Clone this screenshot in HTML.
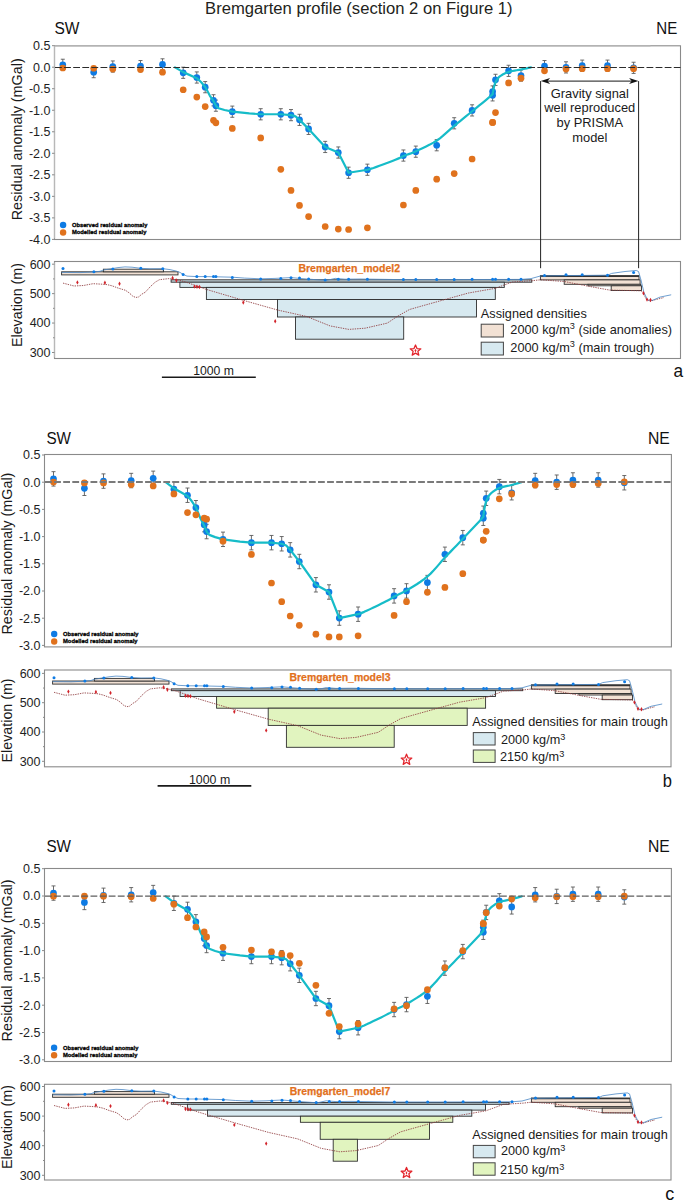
<!DOCTYPE html>
<html><head><meta charset="utf-8"><title>Bremgarten profile</title>
<style>html,body{margin:0;padding:0;background:#fff;}svg{display:block;}</style>
</head><body>
<svg width="685" height="1201" viewBox="0 0 685 1201" font-family='"Liberation Sans", sans-serif'>
<rect width="685" height="1201" fill="#fff"/>
<text x="358.8" y="14.4" font-size="15.6" text-anchor="middle" font-weight="normal" fill="#231f20" textLength="307.5" lengthAdjust="spacingAndGlyphs">Bremgarten profile (section 2 on Figure 1)</text>
<text x="54.5" y="34.3" font-size="17.2" text-anchor="start" font-weight="normal" fill="#111" textLength="25" lengthAdjust="spacingAndGlyphs">SW</text>
<text x="656.3" y="34.2" font-size="17.2" text-anchor="start" font-weight="normal" fill="#111" textLength="21" lengthAdjust="spacingAndGlyphs">NE</text>
<text x="46.4" y="444.2" font-size="16.8" text-anchor="start" font-weight="normal" fill="#111" textLength="24.6" lengthAdjust="spacingAndGlyphs">SW</text>
<text x="648" y="444.2" font-size="16.8" text-anchor="start" font-weight="normal" fill="#111" textLength="21.8" lengthAdjust="spacingAndGlyphs">NE</text>
<text x="46.4" y="851.9" font-size="16.8" text-anchor="start" font-weight="normal" fill="#111" textLength="24.6" lengthAdjust="spacingAndGlyphs">SW</text>
<text x="648" y="851.9" font-size="16.8" text-anchor="start" font-weight="normal" fill="#111" textLength="21.8" lengthAdjust="spacingAndGlyphs">NE</text>
<rect x="54.5" y="45.8" width="626" height="193.7" fill="none" stroke="#8a8a8a" stroke-width="1.1"/>
<path d="M54.5 45.8H650.5M54.5 45.8V238.5" stroke="#b8b8b8" stroke-width="1.3" fill="none"/>
<line x1="52" y1="45.68" x2="54.5" y2="45.68" stroke="#8a8a8a" stroke-width="1"/>
<text x="50.5" y="50.08" font-size="12.5" text-anchor="end" font-weight="normal" fill="#1e1e1e">0.5</text>
<line x1="52" y1="67.2" x2="54.5" y2="67.2" stroke="#8a8a8a" stroke-width="1"/>
<text x="50.5" y="71.6" font-size="12.5" text-anchor="end" font-weight="normal" fill="#1e1e1e">0.0</text>
<line x1="52" y1="88.72" x2="54.5" y2="88.72" stroke="#8a8a8a" stroke-width="1"/>
<text x="50.5" y="93.12" font-size="12.5" text-anchor="end" font-weight="normal" fill="#1e1e1e">-0.5</text>
<line x1="52" y1="110.25" x2="54.5" y2="110.25" stroke="#8a8a8a" stroke-width="1"/>
<text x="50.5" y="114.65" font-size="12.5" text-anchor="end" font-weight="normal" fill="#1e1e1e">-1.0</text>
<line x1="52" y1="131.77" x2="54.5" y2="131.77" stroke="#8a8a8a" stroke-width="1"/>
<text x="50.5" y="136.17" font-size="12.5" text-anchor="end" font-weight="normal" fill="#1e1e1e">-1.5</text>
<line x1="52" y1="153.3" x2="54.5" y2="153.3" stroke="#8a8a8a" stroke-width="1"/>
<text x="50.5" y="157.7" font-size="12.5" text-anchor="end" font-weight="normal" fill="#1e1e1e">-2.0</text>
<line x1="52" y1="174.82" x2="54.5" y2="174.82" stroke="#8a8a8a" stroke-width="1"/>
<text x="50.5" y="179.22" font-size="12.5" text-anchor="end" font-weight="normal" fill="#1e1e1e">-2.5</text>
<line x1="52" y1="196.35" x2="54.5" y2="196.35" stroke="#8a8a8a" stroke-width="1"/>
<text x="50.5" y="200.75" font-size="12.5" text-anchor="end" font-weight="normal" fill="#1e1e1e">-3.0</text>
<line x1="52" y1="217.88" x2="54.5" y2="217.88" stroke="#8a8a8a" stroke-width="1"/>
<text x="50.5" y="222.28" font-size="12.5" text-anchor="end" font-weight="normal" fill="#1e1e1e">-3.5</text>
<line x1="52" y1="239.4" x2="54.5" y2="239.4" stroke="#8a8a8a" stroke-width="1"/>
<text x="50.5" y="243.8" font-size="12.5" text-anchor="end" font-weight="normal" fill="#1e1e1e">-4.0</text>
<text transform="translate(22.2,139.3) rotate(-90)" x="0" y="0" font-size="14.3" text-anchor="middle" fill="#1a1a1a" textLength="162" lengthAdjust="spacingAndGlyphs">Residual anomaly (mGal)</text>
<path d="M62.8 59.23V70.41M60.8 59.23h4M60.8 70.41h4" stroke="#5a5a5a" stroke-width="0.9" fill="none"/><path d="M93.7 66.54V77.72M91.7 66.54h4M91.7 77.72h4" stroke="#5a5a5a" stroke-width="0.9" fill="none"/><path d="M112.8 60.95V72.13M110.8 60.95h4M110.8 72.13h4" stroke="#5a5a5a" stroke-width="0.9" fill="none"/><path d="M140.5 60.52V71.7M138.5 60.52h4M138.5 71.7h4" stroke="#5a5a5a" stroke-width="0.9" fill="none"/><path d="M162.5 58.8V69.98M160.5 58.8h4M160.5 69.98h4" stroke="#5a5a5a" stroke-width="0.9" fill="none"/><path d="M183.2 67.19V78.37M181.2 67.19h4M181.2 78.37h4" stroke="#5a5a5a" stroke-width="0.9" fill="none"/><path d="M196.8 71.92V83.1M194.8 71.92h4M194.8 83.1h4" stroke="#5a5a5a" stroke-width="0.9" fill="none"/><path d="M205.2 81.59V92.77M203.2 81.59h4M203.2 92.77h4" stroke="#5a5a5a" stroke-width="0.9" fill="none"/><path d="M213.5 94.71V105.89M211.5 94.71h4M211.5 105.89h4" stroke="#5a5a5a" stroke-width="0.9" fill="none"/><path d="M215.9 100.08V111.26M213.9 100.08h4M213.9 111.26h4" stroke="#5a5a5a" stroke-width="0.9" fill="none"/><path d="M232.3 106.1V117.28M230.3 106.1h4M230.3 117.28h4" stroke="#5a5a5a" stroke-width="0.9" fill="none"/><path d="M260.7 108.68V119.86M258.7 108.68h4M258.7 119.86h4" stroke="#5a5a5a" stroke-width="0.9" fill="none"/><path d="M280.8 108.68V119.86M278.8 108.68h4M278.8 119.86h4" stroke="#5a5a5a" stroke-width="0.9" fill="none"/><path d="M291 109.54V120.72M289 109.54h4M289 120.72h4" stroke="#5a5a5a" stroke-width="0.9" fill="none"/><path d="M299.5 114.27V125.45M297.5 114.27h4M297.5 125.45h4" stroke="#5a5a5a" stroke-width="0.9" fill="none"/><path d="M308.6 123.3V134.48M306.6 123.3h4M306.6 134.48h4" stroke="#5a5a5a" stroke-width="0.9" fill="none"/><path d="M325.2 141.36V152.54M323.2 141.36h4M323.2 152.54h4" stroke="#5a5a5a" stroke-width="0.9" fill="none"/><path d="M338.3 146.95V158.13M336.3 146.95h4M336.3 158.13h4" stroke="#5a5a5a" stroke-width="0.9" fill="none"/><path d="M348.6 167.16V178.34M346.6 167.16h4M346.6 178.34h4" stroke="#5a5a5a" stroke-width="0.9" fill="none"/><path d="M367.4 164.15V175.33M365.4 164.15h4M365.4 175.33h4" stroke="#5a5a5a" stroke-width="0.9" fill="none"/><path d="M403.4 149.96V161.14M401.4 149.96h4M401.4 161.14h4" stroke="#5a5a5a" stroke-width="0.9" fill="none"/><path d="M415.8 146.09V157.27M413.8 146.09h4M413.8 157.27h4" stroke="#5a5a5a" stroke-width="0.9" fill="none"/><path d="M436.7 139.64V150.82M434.7 139.64h4M434.7 150.82h4" stroke="#5a5a5a" stroke-width="0.9" fill="none"/><path d="M454.2 117.71V128.89M452.2 117.71h4M452.2 128.89h4" stroke="#5a5a5a" stroke-width="0.9" fill="none"/><path d="M472.1 104.81V115.99M470.1 104.81h4M470.1 115.99h4" stroke="#5a5a5a" stroke-width="0.9" fill="none"/><path d="M492.6 85.89V97.07M490.6 85.89h4M490.6 97.07h4" stroke="#5a5a5a" stroke-width="0.9" fill="none"/><path d="M492.6 89.76V100.94M490.6 89.76h4M490.6 100.94h4" stroke="#5a5a5a" stroke-width="0.9" fill="none"/><path d="M495.5 74.28V85.46M493.5 74.28h4M493.5 85.46h4" stroke="#5a5a5a" stroke-width="0.9" fill="none"/><path d="M508.6 65.25V76.43M506.6 65.25h4M506.6 76.43h4" stroke="#5a5a5a" stroke-width="0.9" fill="none"/><path d="M521 69.98V81.16M519 69.98h4M519 81.16h4" stroke="#5a5a5a" stroke-width="0.9" fill="none"/><path d="M544.5 60.52V71.7M542.5 60.52h4M542.5 71.7h4" stroke="#5a5a5a" stroke-width="0.9" fill="none"/><path d="M566 61.81V72.99M564 61.81h4M564 72.99h4" stroke="#5a5a5a" stroke-width="0.9" fill="none"/><path d="M582.2 60.09V71.27M580.2 60.09h4M580.2 71.27h4" stroke="#5a5a5a" stroke-width="0.9" fill="none"/><path d="M607.5 60.09V71.27M605.5 60.09h4M605.5 71.27h4" stroke="#5a5a5a" stroke-width="0.9" fill="none"/><path d="M633.6 62.24V73.42M631.6 62.24h4M631.6 73.42h4" stroke="#5a5a5a" stroke-width="0.9" fill="none"/>
<circle cx="62.8" cy="64.82" r="3.35" fill="#0e7be4"/><circle cx="93.7" cy="72.13" r="3.35" fill="#0e7be4"/><circle cx="112.8" cy="66.54" r="3.35" fill="#0e7be4"/><circle cx="140.5" cy="66.11" r="3.35" fill="#0e7be4"/><circle cx="162.5" cy="64.39" r="3.35" fill="#0e7be4"/><circle cx="183.2" cy="72.78" r="3.35" fill="#0e7be4"/><circle cx="196.8" cy="77.51" r="3.35" fill="#0e7be4"/><circle cx="205.2" cy="87.18" r="3.35" fill="#0e7be4"/><circle cx="213.5" cy="100.3" r="3.35" fill="#0e7be4"/><circle cx="215.9" cy="105.67" r="3.35" fill="#0e7be4"/><circle cx="232.3" cy="111.69" r="3.35" fill="#0e7be4"/><circle cx="260.7" cy="114.27" r="3.35" fill="#0e7be4"/><circle cx="280.8" cy="114.27" r="3.35" fill="#0e7be4"/><circle cx="291" cy="115.13" r="3.35" fill="#0e7be4"/><circle cx="299.5" cy="119.86" r="3.35" fill="#0e7be4"/><circle cx="308.6" cy="128.89" r="3.35" fill="#0e7be4"/><circle cx="325.2" cy="146.95" r="3.35" fill="#0e7be4"/><circle cx="338.3" cy="152.54" r="3.35" fill="#0e7be4"/><circle cx="348.6" cy="172.75" r="3.35" fill="#0e7be4"/><circle cx="367.4" cy="169.74" r="3.35" fill="#0e7be4"/><circle cx="403.4" cy="155.55" r="3.35" fill="#0e7be4"/><circle cx="415.8" cy="151.68" r="3.35" fill="#0e7be4"/><circle cx="436.7" cy="145.23" r="3.35" fill="#0e7be4"/><circle cx="454.2" cy="123.3" r="3.35" fill="#0e7be4"/><circle cx="472.1" cy="110.4" r="3.35" fill="#0e7be4"/><circle cx="492.6" cy="91.48" r="3.35" fill="#0e7be4"/><circle cx="492.6" cy="95.35" r="3.35" fill="#0e7be4"/><circle cx="495.5" cy="79.87" r="3.35" fill="#0e7be4"/><circle cx="508.6" cy="70.84" r="3.35" fill="#0e7be4"/><circle cx="521" cy="75.57" r="3.35" fill="#0e7be4"/><circle cx="544.5" cy="66.11" r="3.35" fill="#0e7be4"/><circle cx="566" cy="67.4" r="3.35" fill="#0e7be4"/><circle cx="582.2" cy="65.68" r="3.35" fill="#0e7be4"/><circle cx="607.5" cy="65.68" r="3.35" fill="#0e7be4"/><circle cx="633.6" cy="67.83" r="3.35" fill="#0e7be4"/>
<polyline points="175,67.4 183.2,72.13 196.8,78.15 201,82.02 205.4,87.18 209.9,95.78 213.4,100.94 216.2,106.1 218.6,108.25 224.5,109.97 232.5,111.69 249.3,113.41 260.7,114.27 280.8,114.27 291,115.13 295.5,116.42 299.5,119.86 308.6,128.89 325.2,146.95 338.3,152.54 348.6,172.75 367.4,169.74 370.44,168.91 373.48,167.94 376.48,166.89 379.42,165.81 382.27,164.73 385,163.72 387.69,162.72 390.39,161.7 392.99,160.68 395.4,159.72 397.54,158.86 399.3,158.13 400.49,157.6 401.14,157.25 401.51,157 401.86,156.76 402.44,156.45 403.5,155.98 405.01,155.41 406.74,154.82 408.71,154.15 410.91,153.37 413.34,152.42 416,151.25 419.03,149.85 422.44,148.26 426.09,146.49 429.81,144.59 433.43,142.59 436.8,140.5 439.89,138.29 442.83,135.91 445.68,133.43 448.48,130.9 451.3,128.36 454.2,125.88 457.16,123.45 460.13,121.04 463.12,118.62 466.13,116.2 469.15,113.75 472.2,111.26 475.47,108.59 479.01,105.7 482.56,102.79 485.89,100.05 488.75,97.65 490.9,95.78 492.18,94.62 492.75,94.04 492.85,93.82 492.72,93.69 492.59,93.43 492.7,92.77 493,91.68 493.29,90.33 493.59,88.85 493.9,87.32 494.23,85.87 494.6,84.6 495.01,83.49 495.44,82.47 495.89,81.51 496.37,80.62 496.88,79.79 497.4,79.01 497.91,78.31 498.39,77.71 498.9,77.17 499.47,76.65 500.16,76.13 501,75.57 501.98,74.96 503.07,74.32 504.26,73.68 505.58,73.05 507.02,72.45 508.6,71.92 510.39,71.44 512.4,71.02 514.54,70.64 516.71,70.27 518.83,69.92 520.8,69.55 522.73,69.15 524.73,68.74 526.66,68.33 528.43,67.95 529.91,67.63 531,67.4" fill="none" stroke="#16bcc8" stroke-width="2.2" stroke-linejoin="round" stroke-linecap="round"/>
<circle cx="62.8" cy="68" r="3.35" fill="#e0721d"/><circle cx="93.7" cy="68.26" r="3.35" fill="#e0721d"/><circle cx="112.8" cy="69.12" r="3.35" fill="#e0721d"/><circle cx="140.5" cy="69.55" r="3.35" fill="#e0721d"/><circle cx="162.5" cy="72.13" r="3.35" fill="#e0721d"/><circle cx="183.2" cy="89.76" r="3.35" fill="#e0721d"/><circle cx="196.8" cy="97.07" r="3.35" fill="#e0721d"/><circle cx="205.2" cy="106.53" r="3.35" fill="#e0721d"/><circle cx="213.5" cy="120.29" r="3.35" fill="#e0721d"/><circle cx="215.9" cy="122.87" r="3.35" fill="#e0721d"/><circle cx="232.3" cy="128.46" r="3.35" fill="#e0721d"/><circle cx="260.7" cy="137.92" r="3.35" fill="#e0721d"/><circle cx="280.8" cy="169.31" r="3.35" fill="#e0721d"/><circle cx="291" cy="190.38" r="3.35" fill="#e0721d"/><circle cx="299.5" cy="205.43" r="3.35" fill="#e0721d"/><circle cx="308.6" cy="216.61" r="3.35" fill="#e0721d"/><circle cx="325.2" cy="226.5" r="3.35" fill="#e0721d"/><circle cx="338.3" cy="229.08" r="3.35" fill="#e0721d"/><circle cx="348.6" cy="229.51" r="3.35" fill="#e0721d"/><circle cx="367.4" cy="227.79" r="3.35" fill="#e0721d"/><circle cx="403.4" cy="205" r="3.35" fill="#e0721d"/><circle cx="415.8" cy="190.38" r="3.35" fill="#e0721d"/><circle cx="436.7" cy="179.2" r="3.35" fill="#e0721d"/><circle cx="454.2" cy="173.61" r="3.35" fill="#e0721d"/><circle cx="472.1" cy="158.99" r="3.35" fill="#e0721d"/><circle cx="492.6" cy="122.44" r="3.35" fill="#e0721d"/><circle cx="492.6" cy="122.44" r="3.35" fill="#e0721d"/><circle cx="495.5" cy="112.55" r="3.35" fill="#e0721d"/><circle cx="508.6" cy="82.88" r="3.35" fill="#e0721d"/><circle cx="521" cy="78.15" r="3.35" fill="#e0721d"/><circle cx="544.5" cy="70.84" r="3.35" fill="#e0721d"/><circle cx="566" cy="69.12" r="3.35" fill="#e0721d"/><circle cx="582.2" cy="68.69" r="3.35" fill="#e0721d"/><circle cx="607.5" cy="68.69" r="3.35" fill="#e0721d"/><circle cx="633.6" cy="68.69" r="3.35" fill="#e0721d"/>
<line x1="55" y1="67.5" x2="680.5" y2="67.5" stroke="#2b2b2b" stroke-width="1.2" stroke-dasharray="6.8 2.3"/>
<circle cx="63.1" cy="225" r="3.2" fill="#0e7be4"/>
<circle cx="63.1" cy="232.5" r="3.2" fill="#e0721d"/>
<text x="71.9" y="227" font-size="6.2" text-anchor="start" font-weight="bold" fill="#000" textLength="75.5" lengthAdjust="spacingAndGlyphs" stroke="#000" stroke-width="0.3">Observed residual anomaly</text>
<text x="71.9" y="234.2" font-size="6.2" text-anchor="start" font-weight="bold" fill="#000" textLength="74.5" lengthAdjust="spacingAndGlyphs" stroke="#000" stroke-width="0.3">Modelled residual anomaly</text>
<rect x="171.1" y="279.8" width="360.7" height="2.4" fill="#c3d5dc" stroke="#2e2e2e" stroke-width="0.9"/>
<rect x="179.9" y="282.2" width="324.4" height="5.2" fill="#d7e9f0" stroke="#2e2e2e" stroke-width="0.9"/>
<rect x="206.4" y="287.4" width="288.9" height="12.1" fill="#d7e9f0" stroke="#2e2e2e" stroke-width="0.9"/>
<rect x="277.5" y="299.5" width="199" height="17.5" fill="#d7e9f0" stroke="#2e2e2e" stroke-width="0.9"/>
<rect x="295.5" y="317" width="108.2" height="22.2" fill="#d7e9f0" stroke="#2e2e2e" stroke-width="0.9"/>
<rect x="61.6" y="271.8" width="116.4" height="3.1" fill="#f2e1d4" stroke="#2e2e2e" stroke-width="0.9"/>
<rect x="103.4" y="269.2" width="60.1" height="2.6" fill="#f2e1d4" stroke="#2e2e2e" stroke-width="0.9"/>
<rect x="540.4" y="275.6" width="98.6" height="4.3" fill="#f2e1d4" stroke="#2e2e2e" stroke-width="0.9"/>
<rect x="564.2" y="279.9" width="75.9" height="4.4" fill="#f2e1d4" stroke="#2e2e2e" stroke-width="0.9"/>
<rect x="587.9" y="284.3" width="52.9" height="1.5" fill="#f2e1d4" stroke="#2e2e2e" stroke-width="0.9"/>
<rect x="611.2" y="285.8" width="30.3" height="4.7" fill="#f2e1d4" stroke="#2e2e2e" stroke-width="0.9"/>
<line x1="540.4" y1="276.3" x2="639" y2="276.3" stroke="#333" stroke-width="1.3"/>
<polyline points="63,283.1 74,286 83.5,285.5 93,283.7 102.4,284.2 107,284.6 112,285.8 118.2,288.1 125.5,290.3 129.2,292.9 132.8,296.2 135.8,297.5 138.7,296.9 141.6,294.3 145.3,292.2 150,287 155,282.3 159.4,279.7 168.9,278.6 176.4,279.5 185,281.8 206.7,289.5 243.2,300.3 277.5,310 306.7,316.5 330,325.9 348.8,329.4 365.1,328.2 387.3,323.1 397.8,316.1 409.5,309.5 420,306.5 442.2,300.3 468.5,293 495,288.4 512.6,281.9 531.5,280.8 540.4,279.8 564.2,281.5 588.8,286.3 609.7,290.1 641,290.8 643.5,293 646,299 650,301.3 656,299.5 664,297.5" fill="none" stroke="#8f3b3d" stroke-width="0.85" stroke-dasharray="1.4 1.0"/>
<polyline points="61.6,272.4 80,272.6 93.9,272 100,271.3 103.4,270 110,269 118,267.6 125,266.9 132,267.2 140.8,268.3 150,268.8 162.8,268.7 170,269.6 176,271 180,272.4 183.1,274.4 187,276.1 196.8,276.6 205.2,276.6 215.9,276.8 232.3,277.2 244.7,278.1 260.7,278.8 275,278.4 291,277.6 308,279.1 326.4,280.4 335.2,278.4 345,279.2 360,279 400,279.6 450,279.6 521,279.4 531,278.6 540.4,276 566,275.6 607.8,275.2 611.6,273.4 625,271.5 636.3,270.5 638.5,271.5 641,280 643.9,292.4 647.6,300 652,300.5 660,297.1 671.2,294.8" fill="none" stroke="#4a87c4" stroke-width="0.8"/>
<circle cx="63" cy="268.5" r="1.5" fill="#0e7be4"/><circle cx="93.9" cy="271.8" r="1.5" fill="#0e7be4"/><circle cx="112.9" cy="268.9" r="1.5" fill="#0e7be4"/><circle cx="140.8" cy="268.3" r="1.5" fill="#0e7be4"/><circle cx="162.8" cy="268.7" r="1.5" fill="#0e7be4"/><circle cx="183.1" cy="274.6" r="1.5" fill="#0e7be4"/><circle cx="196.8" cy="276.6" r="1.5" fill="#0e7be4"/><circle cx="205.2" cy="276.6" r="1.5" fill="#0e7be4"/><circle cx="213.5" cy="276.6" r="1.5" fill="#0e7be4"/><circle cx="215.9" cy="276.6" r="1.5" fill="#0e7be4"/><circle cx="232.3" cy="277.4" r="1.5" fill="#0e7be4"/><circle cx="260.7" cy="278.9" r="1.5" fill="#0e7be4"/><circle cx="280.8" cy="278.6" r="1.5" fill="#0e7be4"/><circle cx="291" cy="277.8" r="1.5" fill="#0e7be4"/><circle cx="299.5" cy="278.1" r="1.5" fill="#0e7be4"/><circle cx="308.6" cy="279.1" r="1.5" fill="#0e7be4"/><circle cx="325.2" cy="280.1" r="1.5" fill="#0e7be4"/><circle cx="338.3" cy="279.2" r="1.5" fill="#0e7be4"/><circle cx="348.6" cy="279.2" r="1.5" fill="#0e7be4"/><circle cx="367.4" cy="279.2" r="1.5" fill="#0e7be4"/><circle cx="403.4" cy="279.6" r="1.5" fill="#0e7be4"/><circle cx="415.8" cy="279.6" r="1.5" fill="#0e7be4"/><circle cx="436.7" cy="279.6" r="1.5" fill="#0e7be4"/><circle cx="454.2" cy="279.6" r="1.5" fill="#0e7be4"/><circle cx="472.1" cy="279.3" r="1.5" fill="#0e7be4"/><circle cx="492.6" cy="279.3" r="1.5" fill="#0e7be4"/><circle cx="495.5" cy="279.3" r="1.5" fill="#0e7be4"/><circle cx="508.6" cy="279.3" r="1.5" fill="#0e7be4"/><circle cx="521" cy="279.3" r="1.5" fill="#0e7be4"/><circle cx="544.5" cy="275.5" r="1.5" fill="#0e7be4"/><circle cx="566" cy="274.8" r="1.5" fill="#0e7be4"/><circle cx="582.2" cy="274.8" r="1.5" fill="#0e7be4"/><circle cx="607.5" cy="275.2" r="1.5" fill="#0e7be4"/><circle cx="633.6" cy="272.5" r="1.5" fill="#0e7be4"/>
<path d="M77.4 280.2l1.2 2.2l-1.2 2.2l-1.2 -2.2z" fill="#d2232a"/><path d="M104.9 280.6l1.2 2.2l-1.2 2.2l-1.2 -2.2z" fill="#d2232a"/><path d="M119.5 281.5l1.2 2.2l-1.2 2.2l-1.2 -2.2z" fill="#d2232a"/><path d="M172.6 275.8l1.2 2.2l-1.2 2.2l-1.2 -2.2z" fill="#d2232a"/><path d="M176.4 278.3l1.2 2.2l-1.2 2.2l-1.2 -2.2z" fill="#d2232a"/><path d="M194.5 284.4l1.2 2.2l-1.2 2.2l-1.2 -2.2z" fill="#d2232a"/><path d="M197 284.6l1.2 2.2l-1.2 2.2l-1.2 -2.2z" fill="#d2232a"/><path d="M199.5 284.8l1.2 2.2l-1.2 2.2l-1.2 -2.2z" fill="#d2232a"/><path d="M243.3 300.3l1.2 2.2l-1.2 2.2l-1.2 -2.2z" fill="#d2232a"/><path d="M275.2 319l1.2 2.2l-1.2 2.2l-1.2 -2.2z" fill="#d2232a"/><path d="M643.5 291l1.2 2.2l-1.2 2.2l-1.2 -2.2z" fill="#d2232a"/><path d="M647 297.4l1.2 2.2l-1.2 2.2l-1.2 -2.2z" fill="#d2232a"/><path d="M650.5 297.8l1.2 2.2l-1.2 2.2l-1.2 -2.2z" fill="#d2232a"/>
<path d="M415.5,345 L416.97,348.58 L420.83,348.87 L417.88,351.37 L418.79,355.13 L415.5,353.1 L412.21,355.13 L413.12,351.37 L410.17,348.87 L414.03,348.58 Z" fill="none" stroke="#e3242b" stroke-width="1.3" stroke-linejoin="round"/>
<path d="M415.5 348.8l0.9 1.8l-0.9 1.8l-0.9 -1.8z" fill="#e3242b"/>
<rect x="54.5" y="261.5" width="626" height="97" fill="none" stroke="#8a8a8a" stroke-width="1.1"/>
<path d="M54.5 262.5V357.5" stroke="#b8b8b8" stroke-width="1.3" fill="none"/>
<line x1="52" y1="264.2" x2="54.5" y2="264.2" stroke="#8a8a8a" stroke-width="1"/>
<text x="50.5" y="268.6" font-size="12.5" text-anchor="end" font-weight="normal" fill="#1e1e1e">600</text>
<line x1="53" y1="278.91" x2="54.5" y2="278.91" stroke="#8a8a8a" stroke-width="1"/>
<line x1="52" y1="293.63" x2="54.5" y2="293.63" stroke="#8a8a8a" stroke-width="1"/>
<text x="50.5" y="298.03" font-size="12.5" text-anchor="end" font-weight="normal" fill="#1e1e1e">500</text>
<line x1="53" y1="308.34" x2="54.5" y2="308.34" stroke="#8a8a8a" stroke-width="1"/>
<line x1="52" y1="323.06" x2="54.5" y2="323.06" stroke="#8a8a8a" stroke-width="1"/>
<text x="50.5" y="327.46" font-size="12.5" text-anchor="end" font-weight="normal" fill="#1e1e1e">400</text>
<line x1="53" y1="337.77" x2="54.5" y2="337.77" stroke="#8a8a8a" stroke-width="1"/>
<line x1="52" y1="352.49" x2="54.5" y2="352.49" stroke="#8a8a8a" stroke-width="1"/>
<text x="50.5" y="356.89" font-size="12.5" text-anchor="end" font-weight="normal" fill="#1e1e1e">300</text>
<text transform="translate(22,305) rotate(-90)" x="0" y="0" font-size="14.3" text-anchor="middle" fill="#1a1a1a" textLength="84" lengthAdjust="spacingAndGlyphs">Elevation (m)</text>
<rect x="44.5" y="454.5" width="626.9" height="192.4" fill="none" stroke="#8a8a8a" stroke-width="1.1"/>
<line x1="42" y1="455" x2="44.5" y2="455" stroke="#8a8a8a" stroke-width="1"/>
<text x="40.5" y="459.4" font-size="12.5" text-anchor="end" font-weight="normal" fill="#1e1e1e">0.5</text>
<line x1="42" y1="482.2" x2="44.5" y2="482.2" stroke="#8a8a8a" stroke-width="1"/>
<text x="40.5" y="486.6" font-size="12.5" text-anchor="end" font-weight="normal" fill="#1e1e1e">0.0</text>
<line x1="42" y1="509.4" x2="44.5" y2="509.4" stroke="#8a8a8a" stroke-width="1"/>
<text x="40.5" y="513.8" font-size="12.5" text-anchor="end" font-weight="normal" fill="#1e1e1e">-0.5</text>
<line x1="42" y1="536.6" x2="44.5" y2="536.6" stroke="#8a8a8a" stroke-width="1"/>
<text x="40.5" y="541" font-size="12.5" text-anchor="end" font-weight="normal" fill="#1e1e1e">-1.0</text>
<line x1="42" y1="563.8" x2="44.5" y2="563.8" stroke="#8a8a8a" stroke-width="1"/>
<text x="40.5" y="568.2" font-size="12.5" text-anchor="end" font-weight="normal" fill="#1e1e1e">-1.5</text>
<line x1="42" y1="591" x2="44.5" y2="591" stroke="#8a8a8a" stroke-width="1"/>
<text x="40.5" y="595.4" font-size="12.5" text-anchor="end" font-weight="normal" fill="#1e1e1e">-2.0</text>
<line x1="42" y1="618.2" x2="44.5" y2="618.2" stroke="#8a8a8a" stroke-width="1"/>
<text x="40.5" y="622.6" font-size="12.5" text-anchor="end" font-weight="normal" fill="#1e1e1e">-2.5</text>
<line x1="42" y1="645.4" x2="44.5" y2="645.4" stroke="#8a8a8a" stroke-width="1"/>
<text x="40.5" y="649.8" font-size="12.5" text-anchor="end" font-weight="normal" fill="#1e1e1e">-3.0</text>
<text transform="translate(12.2,553.6) rotate(-90)" x="0" y="0" font-size="14.3" text-anchor="middle" fill="#1a1a1a" textLength="162" lengthAdjust="spacingAndGlyphs">Residual anomaly (mGal)</text>
<path d="M53.5 471.66V486.08M51.5 471.66h4M51.5 486.08h4" stroke="#5a5a5a" stroke-width="0.9" fill="none"/><path d="M84.4 481.09V495.51M82.4 481.09h4M82.4 495.51h4" stroke="#5a5a5a" stroke-width="0.9" fill="none"/><path d="M103.5 473.88V488.3M101.5 473.88h4M101.5 488.3h4" stroke="#5a5a5a" stroke-width="0.9" fill="none"/><path d="M131.2 473.33V487.75M129.2 473.33h4M129.2 487.75h4" stroke="#5a5a5a" stroke-width="0.9" fill="none"/><path d="M153.2 471.11V485.53M151.2 471.11h4M151.2 485.53h4" stroke="#5a5a5a" stroke-width="0.9" fill="none"/><path d="M173.9 481.92V496.34M171.9 481.92h4M171.9 496.34h4" stroke="#5a5a5a" stroke-width="0.9" fill="none"/><path d="M187.5 488.02V502.44M185.5 488.02h4M185.5 502.44h4" stroke="#5a5a5a" stroke-width="0.9" fill="none"/><path d="M195.9 500.5V514.92M193.9 500.5h4M193.9 514.92h4" stroke="#5a5a5a" stroke-width="0.9" fill="none"/><path d="M204.2 517.42V531.84M202.2 517.42h4M202.2 531.84h4" stroke="#5a5a5a" stroke-width="0.9" fill="none"/><path d="M206.6 524.35V538.77M204.6 524.35h4M204.6 538.77h4" stroke="#5a5a5a" stroke-width="0.9" fill="none"/><path d="M223 532.11V546.53M221 532.11h4M221 546.53h4" stroke="#5a5a5a" stroke-width="0.9" fill="none"/><path d="M251.4 535.44V549.86M249.4 535.44h4M249.4 549.86h4" stroke="#5a5a5a" stroke-width="0.9" fill="none"/><path d="M271.5 535.44V549.86M269.5 535.44h4M269.5 549.86h4" stroke="#5a5a5a" stroke-width="0.9" fill="none"/><path d="M281.7 536.55V550.97M279.7 536.55h4M279.7 550.97h4" stroke="#5a5a5a" stroke-width="0.9" fill="none"/><path d="M290.2 542.65V557.07M288.2 542.65h4M288.2 557.07h4" stroke="#5a5a5a" stroke-width="0.9" fill="none"/><path d="M299.3 554.3V568.72M297.3 554.3h4M297.3 568.72h4" stroke="#5a5a5a" stroke-width="0.9" fill="none"/><path d="M315.9 577.59V592.01M313.9 577.59h4M313.9 592.01h4" stroke="#5a5a5a" stroke-width="0.9" fill="none"/><path d="M329 584.8V599.22M327 584.8h4M327 599.22h4" stroke="#5a5a5a" stroke-width="0.9" fill="none"/><path d="M339.3 610.87V625.29M337.3 610.87h4M337.3 625.29h4" stroke="#5a5a5a" stroke-width="0.9" fill="none"/><path d="M358.1 606.99V621.4M356.1 606.99h4M356.1 621.4h4" stroke="#5a5a5a" stroke-width="0.9" fill="none"/><path d="M394.1 588.68V603.1M392.1 588.68h4M392.1 603.1h4" stroke="#5a5a5a" stroke-width="0.9" fill="none"/><path d="M406.5 583.69V598.11M404.5 583.69h4M404.5 598.11h4" stroke="#5a5a5a" stroke-width="0.9" fill="none"/><path d="M427.4 575.37V589.79M425.4 575.37h4M425.4 589.79h4" stroke="#5a5a5a" stroke-width="0.9" fill="none"/><path d="M444.9 547.09V561.51M442.9 547.09h4M442.9 561.51h4" stroke="#5a5a5a" stroke-width="0.9" fill="none"/><path d="M462.8 530.45V544.87M460.8 530.45h4M460.8 544.87h4" stroke="#5a5a5a" stroke-width="0.9" fill="none"/><path d="M483.3 506.05V520.47M481.3 506.05h4M481.3 520.47h4" stroke="#5a5a5a" stroke-width="0.9" fill="none"/><path d="M483.3 511.04V525.46M481.3 511.04h4M481.3 525.46h4" stroke="#5a5a5a" stroke-width="0.9" fill="none"/><path d="M486.2 491.07V505.49M484.2 491.07h4M484.2 505.49h4" stroke="#5a5a5a" stroke-width="0.9" fill="none"/><path d="M499.3 479.43V493.85M497.3 479.43h4M497.3 493.85h4" stroke="#5a5a5a" stroke-width="0.9" fill="none"/><path d="M511.7 485.53V499.95M509.7 485.53h4M509.7 499.95h4" stroke="#5a5a5a" stroke-width="0.9" fill="none"/><path d="M535.2 473.33V487.75M533.2 473.33h4M533.2 487.75h4" stroke="#5a5a5a" stroke-width="0.9" fill="none"/><path d="M556.7 474.99V489.41M554.7 474.99h4M554.7 489.41h4" stroke="#5a5a5a" stroke-width="0.9" fill="none"/><path d="M572.9 472.77V487.19M570.9 472.77h4M570.9 487.19h4" stroke="#5a5a5a" stroke-width="0.9" fill="none"/><path d="M598.2 472.77V487.19M596.2 472.77h4M596.2 487.19h4" stroke="#5a5a5a" stroke-width="0.9" fill="none"/><path d="M624.3 475.54V489.96M622.3 475.54h4M622.3 489.96h4" stroke="#5a5a5a" stroke-width="0.9" fill="none"/>
<circle cx="53.5" cy="478.87" r="3.35" fill="#0e7be4"/><circle cx="84.4" cy="488.3" r="3.35" fill="#0e7be4"/><circle cx="103.5" cy="481.09" r="3.35" fill="#0e7be4"/><circle cx="131.2" cy="480.54" r="3.35" fill="#0e7be4"/><circle cx="153.2" cy="478.32" r="3.35" fill="#0e7be4"/><circle cx="173.9" cy="489.13" r="3.35" fill="#0e7be4"/><circle cx="187.5" cy="495.23" r="3.35" fill="#0e7be4"/><circle cx="195.9" cy="507.71" r="3.35" fill="#0e7be4"/><circle cx="204.2" cy="524.63" r="3.35" fill="#0e7be4"/><circle cx="206.6" cy="531.56" r="3.35" fill="#0e7be4"/><circle cx="223" cy="539.32" r="3.35" fill="#0e7be4"/><circle cx="251.4" cy="542.65" r="3.35" fill="#0e7be4"/><circle cx="271.5" cy="542.65" r="3.35" fill="#0e7be4"/><circle cx="281.7" cy="543.76" r="3.35" fill="#0e7be4"/><circle cx="290.2" cy="549.86" r="3.35" fill="#0e7be4"/><circle cx="299.3" cy="561.51" r="3.35" fill="#0e7be4"/><circle cx="315.9" cy="584.8" r="3.35" fill="#0e7be4"/><circle cx="329" cy="592.01" r="3.35" fill="#0e7be4"/><circle cx="339.3" cy="618.08" r="3.35" fill="#0e7be4"/><circle cx="358.1" cy="614.19" r="3.35" fill="#0e7be4"/><circle cx="394.1" cy="595.89" r="3.35" fill="#0e7be4"/><circle cx="406.5" cy="590.9" r="3.35" fill="#0e7be4"/><circle cx="427.4" cy="582.58" r="3.35" fill="#0e7be4"/><circle cx="444.9" cy="554.3" r="3.35" fill="#0e7be4"/><circle cx="462.8" cy="537.66" r="3.35" fill="#0e7be4"/><circle cx="483.3" cy="513.26" r="3.35" fill="#0e7be4"/><circle cx="483.3" cy="518.25" r="3.35" fill="#0e7be4"/><circle cx="486.2" cy="498.28" r="3.35" fill="#0e7be4"/><circle cx="499.3" cy="486.64" r="3.35" fill="#0e7be4"/><circle cx="511.7" cy="492.74" r="3.35" fill="#0e7be4"/><circle cx="535.2" cy="480.54" r="3.35" fill="#0e7be4"/><circle cx="556.7" cy="482.2" r="3.35" fill="#0e7be4"/><circle cx="572.9" cy="479.98" r="3.35" fill="#0e7be4"/><circle cx="598.2" cy="479.98" r="3.35" fill="#0e7be4"/><circle cx="624.3" cy="482.75" r="3.35" fill="#0e7be4"/>
<polyline points="165.7,482.2 173.9,488.3 187.5,496.06 191.7,501.06 196.1,507.71 200.6,518.8 204.1,525.46 206.9,532.11 209.3,534.89 215.2,537.11 223.2,539.32 240,541.54 251.4,542.65 271.5,542.65 281.7,543.76 286.2,545.42 290.2,549.86 299.3,561.51 315.9,584.8 329,592.01 339.3,618.08 358.1,614.19 361.14,613.12 364.18,611.87 367.18,610.52 370.12,609.12 372.97,607.74 375.7,606.43 378.39,605.15 381.09,603.82 383.69,602.51 386.1,601.27 388.24,600.16 390,599.22 391.19,598.54 391.84,598.09 392.21,597.76 392.56,597.45 393.14,597.05 394.2,596.45 395.71,595.71 397.44,594.95 399.41,594.09 401.61,593.08 404.04,591.85 406.7,590.35 409.73,588.54 413.14,586.49 416.79,584.21 420.51,581.76 424.13,579.17 427.5,576.48 430.59,573.63 433.53,570.57 436.38,567.37 439.18,564.1 442,560.83 444.9,557.63 447.86,554.5 450.83,551.38 453.82,548.27 456.83,545.14 459.85,541.98 462.9,538.77 466.17,535.32 469.71,531.6 473.26,527.85 476.59,524.31 479.45,521.21 481.6,518.8 482.88,517.3 483.45,516.56 483.55,516.27 483.42,516.11 483.29,515.77 483.4,514.92 483.7,513.51 483.99,511.78 484.29,509.86 484.6,507.9 484.93,506.02 485.3,504.38 485.71,502.96 486.14,501.63 486.59,500.4 487.07,499.25 487.58,498.18 488.1,497.17 488.61,496.28 489.09,495.5 489.6,494.8 490.17,494.13 490.86,493.46 491.7,492.74 492.68,491.95 493.77,491.12 494.96,490.29 496.28,489.48 497.72,488.72 499.3,488.02 501.09,487.42 503.1,486.87 505.24,486.38 507.41,485.91 509.53,485.45 511.5,484.97 513.43,484.46 515.43,483.93 517.36,483.4 519.13,482.91 520.61,482.5 521.7,482.2" fill="none" stroke="#16bcc8" stroke-width="2.2" stroke-linejoin="round" stroke-linecap="round"/>
<circle cx="53.5" cy="482.07" r="3.35" fill="#e0721d"/><circle cx="84.4" cy="482.9" r="3.35" fill="#e0721d"/><circle cx="103.5" cy="482.9" r="3.35" fill="#e0721d"/><circle cx="131.2" cy="484.55" r="3.35" fill="#e0721d"/><circle cx="153.2" cy="485.93" r="3.35" fill="#e0721d"/><circle cx="173.9" cy="493.9" r="3.35" fill="#e0721d"/><circle cx="187.5" cy="512.6" r="3.35" fill="#e0721d"/><circle cx="195.9" cy="514.8" r="3.35" fill="#e0721d"/><circle cx="204.2" cy="518.1" r="3.35" fill="#e0721d"/><circle cx="206.6" cy="519.2" r="3.35" fill="#e0721d"/><circle cx="223" cy="541.2" r="3.35" fill="#e0721d"/><circle cx="251.4" cy="554.4" r="3.35" fill="#e0721d"/><circle cx="271.5" cy="583" r="3.35" fill="#e0721d"/><circle cx="281.7" cy="601.7" r="3.35" fill="#e0721d"/><circle cx="290.2" cy="616" r="3.35" fill="#e0721d"/><circle cx="299.3" cy="625.35" r="3.35" fill="#e0721d"/><circle cx="315.9" cy="634.15" r="3.35" fill="#e0721d"/><circle cx="329" cy="636.9" r="3.35" fill="#e0721d"/><circle cx="339.3" cy="636.9" r="3.35" fill="#e0721d"/><circle cx="358.1" cy="635.8" r="3.35" fill="#e0721d"/><circle cx="394.1" cy="615.45" r="3.35" fill="#e0721d"/><circle cx="406.5" cy="601.7" r="3.35" fill="#e0721d"/><circle cx="427.4" cy="592.35" r="3.35" fill="#e0721d"/><circle cx="444.9" cy="587.4" r="3.35" fill="#e0721d"/><circle cx="462.8" cy="573.65" r="3.35" fill="#e0721d"/><circle cx="483.3" cy="540.1" r="3.35" fill="#e0721d"/><circle cx="483.3" cy="540.1" r="3.35" fill="#e0721d"/><circle cx="486.2" cy="531.3" r="3.35" fill="#e0721d"/><circle cx="499.3" cy="498.85" r="3.35" fill="#e0721d"/><circle cx="511.7" cy="493.9" r="3.35" fill="#e0721d"/><circle cx="535.2" cy="485.1" r="3.35" fill="#e0721d"/><circle cx="556.7" cy="484.55" r="3.35" fill="#e0721d"/><circle cx="572.9" cy="484.55" r="3.35" fill="#e0721d"/><circle cx="598.2" cy="483.45" r="3.35" fill="#e0721d"/><circle cx="624.3" cy="481.8" r="3.35" fill="#e0721d"/>
<line x1="45" y1="482" x2="671.4" y2="482" stroke="#7a7a7a" stroke-width="1.8" stroke-dasharray="6.8 2.3"/>
<circle cx="54.2" cy="634" r="3.2" fill="#0e7be4"/>
<circle cx="54.2" cy="641.5" r="3.2" fill="#e0721d"/>
<text x="63" y="636" font-size="6.2" text-anchor="start" font-weight="bold" fill="#000" textLength="75.5" lengthAdjust="spacingAndGlyphs" stroke="#000" stroke-width="0.3">Observed residual anomaly</text>
<text x="63" y="643.2" font-size="6.2" text-anchor="start" font-weight="bold" fill="#000" textLength="74.5" lengthAdjust="spacingAndGlyphs" stroke="#000" stroke-width="0.3">Modelled residual anomaly</text>
<rect x="171.3" y="688.9" width="351.4" height="1.8" fill="#c3d5dc" stroke="#2e2e2e" stroke-width="0.9"/>
<rect x="180.1" y="690.7" width="315.4" height="5.8" fill="#d7e9f0" stroke="#2e2e2e" stroke-width="0.9"/>
<rect x="216.6" y="696.5" width="269" height="11.7" fill="#e1f4bf" stroke="#2e2e2e" stroke-width="0.9"/>
<rect x="268.2" y="708.2" width="199" height="17.2" fill="#e1f4bf" stroke="#2e2e2e" stroke-width="0.9"/>
<rect x="286.4" y="725.4" width="107.8" height="21.9" fill="#e1f4bf" stroke="#2e2e2e" stroke-width="0.9"/>
<rect x="52.6" y="681" width="116.4" height="3.1" fill="#f2e1d4" stroke="#2e2e2e" stroke-width="0.9"/>
<rect x="94.4" y="678.4" width="60.1" height="2.6" fill="#f2e1d4" stroke="#2e2e2e" stroke-width="0.9"/>
<rect x="531.4" y="684.8" width="98.6" height="4.3" fill="#f2e1d4" stroke="#2e2e2e" stroke-width="0.9"/>
<rect x="555.2" y="689.1" width="75.9" height="4.4" fill="#f2e1d4" stroke="#2e2e2e" stroke-width="0.9"/>
<rect x="578.9" y="693.5" width="52.9" height="1.5" fill="#f2e1d4" stroke="#2e2e2e" stroke-width="0.9"/>
<rect x="602.2" y="695" width="30.3" height="4.7" fill="#f2e1d4" stroke="#2e2e2e" stroke-width="0.9"/>
<line x1="531.4" y1="685.5" x2="630" y2="685.5" stroke="#333" stroke-width="1.3"/>
<polyline points="54,692.3 65,695.2 74.5,694.7 84,692.9 93.4,693.4 98,693.8 103,695 109.2,697.3 116.5,699.5 120.2,702.1 123.8,705.4 126.8,706.7 129.7,706.1 132.6,703.5 136.3,701.4 141,696.2 146,691.5 150.4,688.9 159.9,687.8 167.4,688.7 176,691 197.7,698.7 234.2,709.5 268.5,719.2 297.7,725.7 321,735.1 339.8,738.6 356.1,737.4 378.3,732.3 388.8,725.3 400.5,718.7 411,715.7 433.2,709.5 459.5,702.2 486,697.6 503.6,691.1 522.5,690 531.4,689 555.2,690.7 579.8,695.5 600.7,699.3 632,700 634.5,702.2 637,708.2 641,710.5 647,708.7 655,706.7" fill="none" stroke="#8f3b3d" stroke-width="0.85" stroke-dasharray="1.4 1.0"/>
<polyline points="52.6,681.6 71,681.8 84.9,681.2 91,680.5 94.4,679.2 101,678.2 109,676.8 116,676.1 123,676.4 131.8,677.5 141,678 153.8,677.9 161,678.8 167,680.2 171,681.6 174.1,683.6 178,685.3 187.8,685.8 196.2,685.8 206.9,686 223.3,686.4 235.7,687.3 251.7,688 266,687.6 282,686.8 299,688.3 317.4,689.6 326.2,687.6 336,688.4 351,688.2 391,688.8 441,688.8 512,688.6 522,687.8 531.4,685.2 557,684.8 598.8,684.4 602.6,682.6 616,680.7 627.3,679.7 629.5,680.7 632,689.2 634.9,701.6 638.6,709.2 643,709.7 651,706.3 662.2,704" fill="none" stroke="#4a87c4" stroke-width="0.8"/>
<circle cx="54" cy="677.7" r="1.5" fill="#0e7be4"/><circle cx="84.9" cy="681" r="1.5" fill="#0e7be4"/><circle cx="103.9" cy="678.1" r="1.5" fill="#0e7be4"/><circle cx="131.8" cy="677.5" r="1.5" fill="#0e7be4"/><circle cx="153.8" cy="677.9" r="1.5" fill="#0e7be4"/><circle cx="174.1" cy="683.8" r="1.5" fill="#0e7be4"/><circle cx="187.8" cy="685.8" r="1.5" fill="#0e7be4"/><circle cx="196.2" cy="685.8" r="1.5" fill="#0e7be4"/><circle cx="204.5" cy="685.8" r="1.5" fill="#0e7be4"/><circle cx="206.9" cy="685.8" r="1.5" fill="#0e7be4"/><circle cx="223.3" cy="686.6" r="1.5" fill="#0e7be4"/><circle cx="251.7" cy="688.1" r="1.5" fill="#0e7be4"/><circle cx="271.8" cy="687.8" r="1.5" fill="#0e7be4"/><circle cx="282" cy="687" r="1.5" fill="#0e7be4"/><circle cx="290.5" cy="687.3" r="1.5" fill="#0e7be4"/><circle cx="299.6" cy="688.3" r="1.5" fill="#0e7be4"/><circle cx="316.2" cy="689.3" r="1.5" fill="#0e7be4"/><circle cx="329.3" cy="688.4" r="1.5" fill="#0e7be4"/><circle cx="339.6" cy="688.4" r="1.5" fill="#0e7be4"/><circle cx="358.4" cy="688.4" r="1.5" fill="#0e7be4"/><circle cx="394.4" cy="688.8" r="1.5" fill="#0e7be4"/><circle cx="406.8" cy="688.8" r="1.5" fill="#0e7be4"/><circle cx="427.7" cy="688.8" r="1.5" fill="#0e7be4"/><circle cx="445.2" cy="688.8" r="1.5" fill="#0e7be4"/><circle cx="463.1" cy="688.5" r="1.5" fill="#0e7be4"/><circle cx="483.6" cy="688.5" r="1.5" fill="#0e7be4"/><circle cx="486.5" cy="688.5" r="1.5" fill="#0e7be4"/><circle cx="499.6" cy="688.5" r="1.5" fill="#0e7be4"/><circle cx="512" cy="688.5" r="1.5" fill="#0e7be4"/><circle cx="535.5" cy="684.7" r="1.5" fill="#0e7be4"/><circle cx="557" cy="684" r="1.5" fill="#0e7be4"/><circle cx="573.2" cy="684" r="1.5" fill="#0e7be4"/><circle cx="598.5" cy="684.4" r="1.5" fill="#0e7be4"/><circle cx="624.6" cy="681.7" r="1.5" fill="#0e7be4"/>
<path d="M68.4 689.4l1.2 2.2l-1.2 2.2l-1.2 -2.2z" fill="#d2232a"/><path d="M95.9 689.8l1.2 2.2l-1.2 2.2l-1.2 -2.2z" fill="#d2232a"/><path d="M110.5 690.7l1.2 2.2l-1.2 2.2l-1.2 -2.2z" fill="#d2232a"/><path d="M163.6 685l1.2 2.2l-1.2 2.2l-1.2 -2.2z" fill="#d2232a"/><path d="M167.4 687.5l1.2 2.2l-1.2 2.2l-1.2 -2.2z" fill="#d2232a"/><path d="M185.5 693.6l1.2 2.2l-1.2 2.2l-1.2 -2.2z" fill="#d2232a"/><path d="M188 693.8l1.2 2.2l-1.2 2.2l-1.2 -2.2z" fill="#d2232a"/><path d="M190.5 694l1.2 2.2l-1.2 2.2l-1.2 -2.2z" fill="#d2232a"/><path d="M234.3 709.5l1.2 2.2l-1.2 2.2l-1.2 -2.2z" fill="#d2232a"/><path d="M266.2 728.2l1.2 2.2l-1.2 2.2l-1.2 -2.2z" fill="#d2232a"/><path d="M634.5 700.2l1.2 2.2l-1.2 2.2l-1.2 -2.2z" fill="#d2232a"/><path d="M638 706.6l1.2 2.2l-1.2 2.2l-1.2 -2.2z" fill="#d2232a"/><path d="M641.5 707l1.2 2.2l-1.2 2.2l-1.2 -2.2z" fill="#d2232a"/>
<path d="M406.5,754.2 L407.97,757.78 L411.83,758.07 L408.88,760.57 L409.79,764.33 L406.5,762.3 L403.21,764.33 L404.12,760.57 L401.17,758.07 L405.03,757.78 Z" fill="none" stroke="#e3242b" stroke-width="1.3" stroke-linejoin="round"/>
<path d="M406.5 758l0.9 1.8l-0.9 1.8l-0.9 -1.8z" fill="#e3242b"/>
<rect x="44.5" y="670" width="626.5" height="96.8" fill="none" stroke="#8a8a8a" stroke-width="1.1"/>
<line x1="42" y1="673.4" x2="44.5" y2="673.4" stroke="#8a8a8a" stroke-width="1"/>
<text x="40.5" y="677.8" font-size="12.5" text-anchor="end" font-weight="normal" fill="#1e1e1e">600</text>
<line x1="43" y1="688.05" x2="44.5" y2="688.05" stroke="#8a8a8a" stroke-width="1"/>
<line x1="42" y1="702.7" x2="44.5" y2="702.7" stroke="#8a8a8a" stroke-width="1"/>
<text x="40.5" y="707.1" font-size="12.5" text-anchor="end" font-weight="normal" fill="#1e1e1e">500</text>
<line x1="43" y1="717.35" x2="44.5" y2="717.35" stroke="#8a8a8a" stroke-width="1"/>
<line x1="42" y1="732" x2="44.5" y2="732" stroke="#8a8a8a" stroke-width="1"/>
<text x="40.5" y="736.4" font-size="12.5" text-anchor="end" font-weight="normal" fill="#1e1e1e">400</text>
<line x1="43" y1="746.65" x2="44.5" y2="746.65" stroke="#8a8a8a" stroke-width="1"/>
<line x1="42" y1="761.3" x2="44.5" y2="761.3" stroke="#8a8a8a" stroke-width="1"/>
<text x="40.5" y="765.7" font-size="12.5" text-anchor="end" font-weight="normal" fill="#1e1e1e">300</text>
<text transform="translate(12,720.4) rotate(-90)" x="0" y="0" font-size="14.3" text-anchor="middle" fill="#1a1a1a" textLength="84" lengthAdjust="spacingAndGlyphs">Elevation (m)</text>
<rect x="44.5" y="868.5" width="626.9" height="193" fill="none" stroke="#8a8a8a" stroke-width="1.1"/>
<line x1="42" y1="868.7" x2="44.5" y2="868.7" stroke="#8a8a8a" stroke-width="1"/>
<text x="40.5" y="873.1" font-size="12.5" text-anchor="end" font-weight="normal" fill="#1e1e1e">0.5</text>
<line x1="42" y1="896" x2="44.5" y2="896" stroke="#8a8a8a" stroke-width="1"/>
<text x="40.5" y="900.4" font-size="12.5" text-anchor="end" font-weight="normal" fill="#1e1e1e">0.0</text>
<line x1="42" y1="923.3" x2="44.5" y2="923.3" stroke="#8a8a8a" stroke-width="1"/>
<text x="40.5" y="927.7" font-size="12.5" text-anchor="end" font-weight="normal" fill="#1e1e1e">-0.5</text>
<line x1="42" y1="950.6" x2="44.5" y2="950.6" stroke="#8a8a8a" stroke-width="1"/>
<text x="40.5" y="955" font-size="12.5" text-anchor="end" font-weight="normal" fill="#1e1e1e">-1.0</text>
<line x1="42" y1="977.9" x2="44.5" y2="977.9" stroke="#8a8a8a" stroke-width="1"/>
<text x="40.5" y="982.3" font-size="12.5" text-anchor="end" font-weight="normal" fill="#1e1e1e">-1.5</text>
<line x1="42" y1="1005.2" x2="44.5" y2="1005.2" stroke="#8a8a8a" stroke-width="1"/>
<text x="40.5" y="1009.6" font-size="12.5" text-anchor="end" font-weight="normal" fill="#1e1e1e">-2.0</text>
<line x1="42" y1="1032.5" x2="44.5" y2="1032.5" stroke="#8a8a8a" stroke-width="1"/>
<text x="40.5" y="1036.9" font-size="12.5" text-anchor="end" font-weight="normal" fill="#1e1e1e">-2.5</text>
<line x1="42" y1="1059.8" x2="44.5" y2="1059.8" stroke="#8a8a8a" stroke-width="1"/>
<text x="40.5" y="1064.2" font-size="12.5" text-anchor="end" font-weight="normal" fill="#1e1e1e">-3.0</text>
<text transform="translate(12.2,960.4) rotate(-90)" x="0" y="0" font-size="14.3" text-anchor="middle" fill="#1a1a1a" textLength="162" lengthAdjust="spacingAndGlyphs">Residual anomaly (mGal)</text>
<path d="M53.5 885.91V900.26M51.5 885.91h4M51.5 900.26h4" stroke="#5a5a5a" stroke-width="0.9" fill="none"/><path d="M84.4 895.3V909.65M82.4 895.3h4M82.4 909.65h4" stroke="#5a5a5a" stroke-width="0.9" fill="none"/><path d="M103.5 888.12V902.47M101.5 888.12h4M101.5 902.47h4" stroke="#5a5a5a" stroke-width="0.9" fill="none"/><path d="M131.2 887.57V901.92M129.2 887.57h4M129.2 901.92h4" stroke="#5a5a5a" stroke-width="0.9" fill="none"/><path d="M153.2 885.36V899.71M151.2 885.36h4M151.2 899.71h4" stroke="#5a5a5a" stroke-width="0.9" fill="none"/><path d="M173.9 896.12V910.47M171.9 896.12h4M171.9 910.47h4" stroke="#5a5a5a" stroke-width="0.9" fill="none"/><path d="M187.5 902.19V916.54M185.5 902.19h4M185.5 916.54h4" stroke="#5a5a5a" stroke-width="0.9" fill="none"/><path d="M195.9 914.61V928.96M193.9 914.61h4M193.9 928.96h4" stroke="#5a5a5a" stroke-width="0.9" fill="none"/><path d="M204.2 931.45V945.8M202.2 931.45h4M202.2 945.8h4" stroke="#5a5a5a" stroke-width="0.9" fill="none"/><path d="M206.6 938.34V952.69M204.6 938.34h4M204.6 952.69h4" stroke="#5a5a5a" stroke-width="0.9" fill="none"/><path d="M223 946.07V960.42M221 946.07h4M221 960.42h4" stroke="#5a5a5a" stroke-width="0.9" fill="none"/><path d="M251.4 949.38V963.73M249.4 949.38h4M249.4 963.73h4" stroke="#5a5a5a" stroke-width="0.9" fill="none"/><path d="M271.5 949.38V963.73M269.5 949.38h4M269.5 963.73h4" stroke="#5a5a5a" stroke-width="0.9" fill="none"/><path d="M281.7 950.49V964.84M279.7 950.49h4M279.7 964.84h4" stroke="#5a5a5a" stroke-width="0.9" fill="none"/><path d="M290.2 956.56V970.91M288.2 956.56h4M288.2 970.91h4" stroke="#5a5a5a" stroke-width="0.9" fill="none"/><path d="M299.3 968.15V982.5M297.3 968.15h4M297.3 982.5h4" stroke="#5a5a5a" stroke-width="0.9" fill="none"/><path d="M315.9 991.33V1005.68M313.9 991.33h4M313.9 1005.68h4" stroke="#5a5a5a" stroke-width="0.9" fill="none"/><path d="M329 998.5V1012.85M327 998.5h4M327 1012.85h4" stroke="#5a5a5a" stroke-width="0.9" fill="none"/><path d="M339.3 1024.44V1038.79M337.3 1024.44h4M337.3 1038.79h4" stroke="#5a5a5a" stroke-width="0.9" fill="none"/><path d="M358.1 1020.58V1034.93M356.1 1020.58h4M356.1 1034.93h4" stroke="#5a5a5a" stroke-width="0.9" fill="none"/><path d="M394.1 1002.36V1016.71M392.1 1002.36h4M392.1 1016.71h4" stroke="#5a5a5a" stroke-width="0.9" fill="none"/><path d="M406.5 997.4V1011.75M404.5 997.4h4M404.5 1011.75h4" stroke="#5a5a5a" stroke-width="0.9" fill="none"/><path d="M427.4 989.12V1003.47M425.4 989.12h4M425.4 1003.47h4" stroke="#5a5a5a" stroke-width="0.9" fill="none"/><path d="M444.9 960.97V975.32M442.9 960.97h4M442.9 975.32h4" stroke="#5a5a5a" stroke-width="0.9" fill="none"/><path d="M462.8 944.42V958.76M460.8 944.42h4M460.8 958.76h4" stroke="#5a5a5a" stroke-width="0.9" fill="none"/><path d="M483.3 920.13V934.48M481.3 920.13h4M481.3 934.48h4" stroke="#5a5a5a" stroke-width="0.9" fill="none"/><path d="M483.3 925.1V939.45M481.3 925.1h4M481.3 939.45h4" stroke="#5a5a5a" stroke-width="0.9" fill="none"/><path d="M486.2 905.23V919.58M484.2 905.23h4M484.2 919.58h4" stroke="#5a5a5a" stroke-width="0.9" fill="none"/><path d="M499.3 893.64V907.99M497.3 893.64h4M497.3 907.99h4" stroke="#5a5a5a" stroke-width="0.9" fill="none"/><path d="M511.7 899.71V914.06M509.7 899.71h4M509.7 914.06h4" stroke="#5a5a5a" stroke-width="0.9" fill="none"/><path d="M535.2 887.57V901.92M533.2 887.57h4M533.2 901.92h4" stroke="#5a5a5a" stroke-width="0.9" fill="none"/><path d="M556.7 889.23V903.57M554.7 889.23h4M554.7 903.57h4" stroke="#5a5a5a" stroke-width="0.9" fill="none"/><path d="M572.9 887.02V901.37M570.9 887.02h4M570.9 901.37h4" stroke="#5a5a5a" stroke-width="0.9" fill="none"/><path d="M598.2 887.02V901.37M596.2 887.02h4M596.2 901.37h4" stroke="#5a5a5a" stroke-width="0.9" fill="none"/><path d="M624.3 889.78V904.13M622.3 889.78h4M622.3 904.13h4" stroke="#5a5a5a" stroke-width="0.9" fill="none"/>
<circle cx="53.5" cy="893.09" r="3.35" fill="#0e7be4"/><circle cx="84.4" cy="902.47" r="3.35" fill="#0e7be4"/><circle cx="103.5" cy="895.3" r="3.35" fill="#0e7be4"/><circle cx="131.2" cy="894.74" r="3.35" fill="#0e7be4"/><circle cx="153.2" cy="892.54" r="3.35" fill="#0e7be4"/><circle cx="173.9" cy="903.3" r="3.35" fill="#0e7be4"/><circle cx="187.5" cy="909.37" r="3.35" fill="#0e7be4"/><circle cx="195.9" cy="921.79" r="3.35" fill="#0e7be4"/><circle cx="204.2" cy="938.62" r="3.35" fill="#0e7be4"/><circle cx="206.6" cy="945.52" r="3.35" fill="#0e7be4"/><circle cx="223" cy="953.25" r="3.35" fill="#0e7be4"/><circle cx="251.4" cy="956.56" r="3.35" fill="#0e7be4"/><circle cx="271.5" cy="956.56" r="3.35" fill="#0e7be4"/><circle cx="281.7" cy="957.66" r="3.35" fill="#0e7be4"/><circle cx="290.2" cy="963.73" r="3.35" fill="#0e7be4"/><circle cx="299.3" cy="975.32" r="3.35" fill="#0e7be4"/><circle cx="315.9" cy="998.5" r="3.35" fill="#0e7be4"/><circle cx="329" cy="1005.68" r="3.35" fill="#0e7be4"/><circle cx="339.3" cy="1031.62" r="3.35" fill="#0e7be4"/><circle cx="358.1" cy="1027.75" r="3.35" fill="#0e7be4"/><circle cx="394.1" cy="1009.54" r="3.35" fill="#0e7be4"/><circle cx="406.5" cy="1004.57" r="3.35" fill="#0e7be4"/><circle cx="427.4" cy="996.29" r="3.35" fill="#0e7be4"/><circle cx="444.9" cy="968.15" r="3.35" fill="#0e7be4"/><circle cx="462.8" cy="951.59" r="3.35" fill="#0e7be4"/><circle cx="483.3" cy="927.31" r="3.35" fill="#0e7be4"/><circle cx="483.3" cy="932.27" r="3.35" fill="#0e7be4"/><circle cx="486.2" cy="912.41" r="3.35" fill="#0e7be4"/><circle cx="499.3" cy="900.82" r="3.35" fill="#0e7be4"/><circle cx="511.7" cy="906.89" r="3.35" fill="#0e7be4"/><circle cx="535.2" cy="894.74" r="3.35" fill="#0e7be4"/><circle cx="556.7" cy="896.4" r="3.35" fill="#0e7be4"/><circle cx="572.9" cy="894.19" r="3.35" fill="#0e7be4"/><circle cx="598.2" cy="894.19" r="3.35" fill="#0e7be4"/><circle cx="624.3" cy="896.95" r="3.35" fill="#0e7be4"/>
<polyline points="165.7,896.4 173.9,902.47 187.5,910.2 191.7,915.16 196.1,921.79 200.6,932.83 204.1,939.45 206.9,946.07 209.3,948.83 215.2,951.04 223.2,953.25 240,955.45 251.4,956.56 271.5,956.56 281.7,957.66 286.2,959.32 290.2,963.73 299.3,975.32 315.9,998.5 329,1005.68 339.3,1031.62 358.1,1027.75 361.14,1026.68 364.18,1025.44 367.18,1024.1 370.12,1022.7 372.97,1021.33 375.7,1020.03 378.39,1018.75 381.09,1017.43 383.69,1016.13 386.1,1014.89 388.24,1013.78 390,1012.85 391.19,1012.17 391.84,1011.73 392.21,1011.4 392.56,1011.09 393.14,1010.69 394.2,1010.09 395.71,1009.36 397.44,1008.6 399.41,1007.75 401.61,1006.74 404.04,1005.52 406.7,1004.02 409.73,1002.23 413.14,1000.18 416.79,997.92 420.51,995.48 424.13,992.9 427.5,990.22 430.59,987.38 433.53,984.34 436.38,981.15 439.18,977.9 442,974.64 444.9,971.46 447.86,968.34 450.83,965.24 453.82,962.15 456.83,959.03 459.85,955.89 462.9,952.69 466.17,949.26 469.71,945.56 473.26,941.83 476.59,938.3 479.45,935.22 481.6,932.83 482.88,931.33 483.45,930.6 483.55,930.31 483.42,930.15 483.29,929.8 483.4,928.96 483.7,927.56 483.99,925.83 484.29,923.93 484.6,921.97 484.93,920.11 485.3,918.48 485.71,917.06 486.14,915.74 486.59,914.51 487.07,913.37 487.58,912.3 488.1,911.3 488.61,910.41 489.09,909.64 489.6,908.94 490.17,908.28 490.86,907.61 491.7,906.89 492.68,906.1 493.77,905.28 494.96,904.45 496.28,903.65 497.72,902.88 499.3,902.19 501.09,901.59 503.1,901.05 505.24,900.56 507.41,900.09 509.53,899.63 511.5,899.16 513.43,898.65 515.43,898.12 517.36,897.59 519.13,897.11 520.61,896.7 521.7,896.4" fill="none" stroke="#16bcc8" stroke-width="2.2" stroke-linejoin="round" stroke-linecap="round"/>
<circle cx="53.5" cy="896.2" r="3.35" fill="#e0721d"/><circle cx="84.4" cy="896.2" r="3.35" fill="#e0721d"/><circle cx="103.5" cy="896.2" r="3.35" fill="#e0721d"/><circle cx="131.2" cy="896.75" r="3.35" fill="#e0721d"/><circle cx="153.2" cy="898.4" r="3.35" fill="#e0721d"/><circle cx="173.9" cy="904.18" r="3.35" fill="#e0721d"/><circle cx="187.5" cy="917.65" r="3.35" fill="#e0721d"/><circle cx="195.9" cy="927" r="3.35" fill="#e0721d"/><circle cx="204.2" cy="931.95" r="3.35" fill="#e0721d"/><circle cx="206.6" cy="936.9" r="3.35" fill="#e0721d"/><circle cx="223" cy="947.35" r="3.35" fill="#e0721d"/><circle cx="251.4" cy="950.1" r="3.35" fill="#e0721d"/><circle cx="271.5" cy="951.75" r="3.35" fill="#e0721d"/><circle cx="281.7" cy="953.95" r="3.35" fill="#e0721d"/><circle cx="290.2" cy="955.6" r="3.35" fill="#e0721d"/><circle cx="299.3" cy="963.3" r="3.35" fill="#e0721d"/><circle cx="315.9" cy="985.3" r="3.35" fill="#e0721d"/><circle cx="329" cy="1013.35" r="3.35" fill="#e0721d"/><circle cx="339.3" cy="1026.55" r="3.35" fill="#e0721d"/><circle cx="358.1" cy="1023.8" r="3.35" fill="#e0721d"/><circle cx="394.1" cy="1008.95" r="3.35" fill="#e0721d"/><circle cx="406.5" cy="1005.65" r="3.35" fill="#e0721d"/><circle cx="427.4" cy="989.7" r="3.35" fill="#e0721d"/><circle cx="444.9" cy="967.7" r="3.35" fill="#e0721d"/><circle cx="462.8" cy="950.65" r="3.35" fill="#e0721d"/><circle cx="483.3" cy="923.7" r="3.35" fill="#e0721d"/><circle cx="483.3" cy="923.7" r="3.35" fill="#e0721d"/><circle cx="486.2" cy="912.7" r="3.35" fill="#e0721d"/><circle cx="499.3" cy="906.1" r="3.35" fill="#e0721d"/><circle cx="511.7" cy="898.95" r="3.35" fill="#e0721d"/><circle cx="535.2" cy="897.85" r="3.35" fill="#e0721d"/><circle cx="556.7" cy="896.75" r="3.35" fill="#e0721d"/><circle cx="572.9" cy="896.75" r="3.35" fill="#e0721d"/><circle cx="598.2" cy="896.75" r="3.35" fill="#e0721d"/><circle cx="624.3" cy="896.2" r="3.35" fill="#e0721d"/>
<line x1="45" y1="896.2" x2="671.4" y2="896.2" stroke="#5e5e5e" stroke-width="1.3" stroke-dasharray="6.8 2.3"/>
<circle cx="54.1" cy="1047.7" r="3.2" fill="#0e7be4"/>
<circle cx="54.1" cy="1055.2" r="3.2" fill="#e0721d"/>
<text x="62.9" y="1049.7" font-size="6.2" text-anchor="start" font-weight="bold" fill="#000" textLength="75.5" lengthAdjust="spacingAndGlyphs" stroke="#000" stroke-width="0.3">Observed residual anomaly</text>
<text x="62.9" y="1056.9" font-size="6.2" text-anchor="start" font-weight="bold" fill="#000" textLength="74.5" lengthAdjust="spacingAndGlyphs" stroke="#000" stroke-width="0.3">Modelled residual anomaly</text>
<rect x="171.3" y="1102.5" width="337.9" height="1.8" fill="#c3d5dc" stroke="#2e2e2e" stroke-width="0.9"/>
<rect x="187.4" y="1104.3" width="298.1" height="5.8" fill="#d7e9f0" stroke="#2e2e2e" stroke-width="0.9"/>
<rect x="207.5" y="1110.1" width="264.3" height="6.1" fill="#d7e9f0" stroke="#2e2e2e" stroke-width="0.9"/>
<rect x="300.4" y="1116.2" width="152.4" height="6.1" fill="#e1f4bf" stroke="#2e2e2e" stroke-width="0.9"/>
<rect x="320.2" y="1122.3" width="109.3" height="17" fill="#e1f4bf" stroke="#2e2e2e" stroke-width="0.9"/>
<rect x="333.2" y="1139.3" width="24.2" height="21.9" fill="#e1f4bf" stroke="#2e2e2e" stroke-width="0.9"/>
<rect x="52.6" y="1094.2" width="116.4" height="3.1" fill="#f2e1d4" stroke="#2e2e2e" stroke-width="0.9"/>
<rect x="94.4" y="1091.6" width="60.1" height="2.6" fill="#f2e1d4" stroke="#2e2e2e" stroke-width="0.9"/>
<rect x="531.4" y="1098" width="98.6" height="4.3" fill="#f2e1d4" stroke="#2e2e2e" stroke-width="0.9"/>
<rect x="555.2" y="1102.3" width="75.9" height="4.4" fill="#f2e1d4" stroke="#2e2e2e" stroke-width="0.9"/>
<rect x="578.9" y="1106.7" width="52.9" height="1.5" fill="#f2e1d4" stroke="#2e2e2e" stroke-width="0.9"/>
<rect x="602.2" y="1108.2" width="30.3" height="4.7" fill="#f2e1d4" stroke="#2e2e2e" stroke-width="0.9"/>
<line x1="531.4" y1="1098.7" x2="630" y2="1098.7" stroke="#333" stroke-width="1.3"/>
<polyline points="54,1105.5 65,1108.4 74.5,1107.9 84,1106.1 93.4,1106.6 98,1107 103,1108.2 109.2,1110.5 116.5,1112.7 120.2,1115.3 123.8,1118.6 126.8,1119.9 129.7,1119.3 132.6,1116.7 136.3,1114.6 141,1109.4 146,1104.7 150.4,1102.1 159.9,1101 167.4,1101.9 176,1104.2 197.7,1111.9 234.2,1122.7 268.5,1132.4 297.7,1138.9 321,1148.3 339.8,1151.8 356.1,1150.6 378.3,1145.5 388.8,1138.5 400.5,1131.9 411,1128.9 433.2,1122.7 459.5,1115.4 486,1110.8 503.6,1104.3 522.5,1103.2 531.4,1102.2 555.2,1103.9 579.8,1108.7 600.7,1112.5 632,1113.2 634.5,1115.4 637,1121.4 641,1123.7 647,1121.9 655,1119.9" fill="none" stroke="#8f3b3d" stroke-width="0.85" stroke-dasharray="1.4 1.0"/>
<polyline points="52.6,1094.8 71,1095 84.9,1094.4 91,1093.7 94.4,1092.4 101,1091.4 109,1090 116,1089.3 123,1089.6 131.8,1090.7 141,1091.2 153.8,1091.1 161,1092 167,1093.4 171,1094.8 174.1,1096.8 178,1098.5 187.8,1099 196.2,1099 206.9,1099.2 223.3,1099.6 235.7,1100.5 251.7,1101.2 266,1100.8 282,1100 299,1101.5 317.4,1102.8 326.2,1100.8 336,1101.6 351,1101.4 391,1102 441,1102 512,1101.8 522,1101 531.4,1098.4 557,1098 598.8,1097.6 602.6,1095.8 616,1093.9 627.3,1092.9 629.5,1093.9 632,1102.4 634.9,1114.8 638.6,1122.4 643,1122.9 651,1119.5 662.2,1117.2" fill="none" stroke="#4a87c4" stroke-width="0.8"/>
<circle cx="54" cy="1090.9" r="1.5" fill="#0e7be4"/><circle cx="84.9" cy="1094.2" r="1.5" fill="#0e7be4"/><circle cx="103.9" cy="1091.3" r="1.5" fill="#0e7be4"/><circle cx="131.8" cy="1090.7" r="1.5" fill="#0e7be4"/><circle cx="153.8" cy="1091.1" r="1.5" fill="#0e7be4"/><circle cx="174.1" cy="1097" r="1.5" fill="#0e7be4"/><circle cx="187.8" cy="1099" r="1.5" fill="#0e7be4"/><circle cx="196.2" cy="1099" r="1.5" fill="#0e7be4"/><circle cx="204.5" cy="1099" r="1.5" fill="#0e7be4"/><circle cx="206.9" cy="1099" r="1.5" fill="#0e7be4"/><circle cx="223.3" cy="1099.8" r="1.5" fill="#0e7be4"/><circle cx="251.7" cy="1101.3" r="1.5" fill="#0e7be4"/><circle cx="271.8" cy="1101" r="1.5" fill="#0e7be4"/><circle cx="282" cy="1100.2" r="1.5" fill="#0e7be4"/><circle cx="290.5" cy="1100.5" r="1.5" fill="#0e7be4"/><circle cx="299.6" cy="1101.5" r="1.5" fill="#0e7be4"/><circle cx="316.2" cy="1102.5" r="1.5" fill="#0e7be4"/><circle cx="329.3" cy="1101.6" r="1.5" fill="#0e7be4"/><circle cx="339.6" cy="1101.6" r="1.5" fill="#0e7be4"/><circle cx="358.4" cy="1101.6" r="1.5" fill="#0e7be4"/><circle cx="394.4" cy="1102" r="1.5" fill="#0e7be4"/><circle cx="406.8" cy="1102" r="1.5" fill="#0e7be4"/><circle cx="427.7" cy="1102" r="1.5" fill="#0e7be4"/><circle cx="445.2" cy="1102" r="1.5" fill="#0e7be4"/><circle cx="463.1" cy="1101.7" r="1.5" fill="#0e7be4"/><circle cx="483.6" cy="1101.7" r="1.5" fill="#0e7be4"/><circle cx="486.5" cy="1101.7" r="1.5" fill="#0e7be4"/><circle cx="499.6" cy="1101.7" r="1.5" fill="#0e7be4"/><circle cx="512" cy="1101.7" r="1.5" fill="#0e7be4"/><circle cx="535.5" cy="1097.9" r="1.5" fill="#0e7be4"/><circle cx="557" cy="1097.2" r="1.5" fill="#0e7be4"/><circle cx="573.2" cy="1097.2" r="1.5" fill="#0e7be4"/><circle cx="598.5" cy="1097.6" r="1.5" fill="#0e7be4"/><circle cx="624.6" cy="1094.9" r="1.5" fill="#0e7be4"/>
<path d="M68.4 1102.6l1.2 2.2l-1.2 2.2l-1.2 -2.2z" fill="#d2232a"/><path d="M95.9 1103l1.2 2.2l-1.2 2.2l-1.2 -2.2z" fill="#d2232a"/><path d="M110.5 1103.9l1.2 2.2l-1.2 2.2l-1.2 -2.2z" fill="#d2232a"/><path d="M163.6 1098.2l1.2 2.2l-1.2 2.2l-1.2 -2.2z" fill="#d2232a"/><path d="M167.4 1100.7l1.2 2.2l-1.2 2.2l-1.2 -2.2z" fill="#d2232a"/><path d="M185.5 1106.8l1.2 2.2l-1.2 2.2l-1.2 -2.2z" fill="#d2232a"/><path d="M188 1107l1.2 2.2l-1.2 2.2l-1.2 -2.2z" fill="#d2232a"/><path d="M190.5 1107.2l1.2 2.2l-1.2 2.2l-1.2 -2.2z" fill="#d2232a"/><path d="M234.3 1122.7l1.2 2.2l-1.2 2.2l-1.2 -2.2z" fill="#d2232a"/><path d="M266.2 1141.4l1.2 2.2l-1.2 2.2l-1.2 -2.2z" fill="#d2232a"/><path d="M634.5 1113.4l1.2 2.2l-1.2 2.2l-1.2 -2.2z" fill="#d2232a"/><path d="M638 1119.8l1.2 2.2l-1.2 2.2l-1.2 -2.2z" fill="#d2232a"/><path d="M641.5 1120.2l1.2 2.2l-1.2 2.2l-1.2 -2.2z" fill="#d2232a"/>
<path d="M406.5,1167.4 L407.97,1170.98 L411.83,1171.27 L408.88,1173.77 L409.79,1177.53 L406.5,1175.5 L403.21,1177.53 L404.12,1173.77 L401.17,1171.27 L405.03,1170.98 Z" fill="none" stroke="#e3242b" stroke-width="1.3" stroke-linejoin="round"/>
<path d="M406.5 1171.2l0.9 1.8l-0.9 1.8l-0.9 -1.8z" fill="#e3242b"/>
<rect x="44.5" y="1084.3" width="626.5" height="95.7" fill="none" stroke="#8a8a8a" stroke-width="1.1"/>
<line x1="42" y1="1086.5" x2="44.5" y2="1086.5" stroke="#8a8a8a" stroke-width="1"/>
<text x="40.5" y="1090.9" font-size="12.5" text-anchor="end" font-weight="normal" fill="#1e1e1e">600</text>
<line x1="43" y1="1101.3" x2="44.5" y2="1101.3" stroke="#8a8a8a" stroke-width="1"/>
<line x1="42" y1="1116.1" x2="44.5" y2="1116.1" stroke="#8a8a8a" stroke-width="1"/>
<text x="40.5" y="1120.5" font-size="12.5" text-anchor="end" font-weight="normal" fill="#1e1e1e">500</text>
<line x1="43" y1="1130.9" x2="44.5" y2="1130.9" stroke="#8a8a8a" stroke-width="1"/>
<line x1="42" y1="1145.7" x2="44.5" y2="1145.7" stroke="#8a8a8a" stroke-width="1"/>
<text x="40.5" y="1150.1" font-size="12.5" text-anchor="end" font-weight="normal" fill="#1e1e1e">400</text>
<line x1="43" y1="1160.5" x2="44.5" y2="1160.5" stroke="#8a8a8a" stroke-width="1"/>
<line x1="42" y1="1175.3" x2="44.5" y2="1175.3" stroke="#8a8a8a" stroke-width="1"/>
<text x="40.5" y="1179.7" font-size="12.5" text-anchor="end" font-weight="normal" fill="#1e1e1e">300</text>
<text transform="translate(12,1127) rotate(-90)" x="0" y="0" font-size="14.3" text-anchor="middle" fill="#1a1a1a" textLength="84" lengthAdjust="spacingAndGlyphs">Elevation (m)</text>
<text x="480.8" y="317.9" font-size="12.8" text-anchor="start" font-weight="normal" fill="#1a1a1a" textLength="106" lengthAdjust="spacingAndGlyphs">Assigned densities</text>
<rect x="481.2" y="324.2" width="22.2" height="12.8" fill="#f2e1d4" stroke="#444" stroke-width="1"/>
<rect x="481.2" y="342.2" width="22.2" height="12.8" fill="#d7e9f0" stroke="#444" stroke-width="1"/>
<text x="510.3" y="333.6" font-size="12.75" fill="#1a1a1a">2000 kg/m<tspan font-size="9.18" dy="-4.4">3</tspan><tspan dy="4.4"> (side anomalies)</tspan></text>
<text x="510.3" y="351.8" font-size="12.75" fill="#1a1a1a">2000 kg/m<tspan font-size="9.18" dy="-4.4">3</tspan><tspan dy="4.4"> (main trough)</tspan></text>
<text x="472.3" y="726.4" font-size="12.7" text-anchor="start" font-weight="normal" fill="#1a1a1a" textLength="195.5" lengthAdjust="spacingAndGlyphs">Assigned densities for main trough</text>
<rect x="473.3" y="732.6" width="21.8" height="12.4" fill="#d7e9f0" stroke="#444" stroke-width="1"/>
<rect x="473.3" y="750" width="21.8" height="12.4" fill="#e1f4bf" stroke="#444" stroke-width="1"/>
<text x="501" y="743.9" font-size="12.7" fill="#1a1a1a">2000 kg/m<tspan font-size="9.14" dy="-4.4">3</tspan><tspan dy="4.4"></tspan></text>
<text x="499.9" y="761.4" font-size="12.7" fill="#1a1a1a">2150 kg/m<tspan font-size="9.14" dy="-4.4">3</tspan><tspan dy="4.4"></tspan></text>
<text x="472.3" y="1139.2" font-size="12.7" text-anchor="start" font-weight="normal" fill="#1a1a1a" textLength="195.5" lengthAdjust="spacingAndGlyphs">Assigned densities for main trough</text>
<rect x="473.3" y="1145.4" width="21.8" height="12.4" fill="#d7e9f0" stroke="#444" stroke-width="1"/>
<rect x="473.3" y="1162.8" width="21.8" height="12.4" fill="#e1f4bf" stroke="#444" stroke-width="1"/>
<text x="501" y="1155.2" font-size="12.7" fill="#1a1a1a">2000 kg/m<tspan font-size="9.14" dy="-4.4">3</tspan><tspan dy="4.4"></tspan></text>
<text x="499.9" y="1173.9" font-size="12.7" fill="#1a1a1a">2150 kg/m<tspan font-size="9.14" dy="-4.4">3</tspan><tspan dy="4.4"></tspan></text>
<text x="298.4" y="272.3" font-size="11.2" text-anchor="start" font-weight="bold" fill="#e2701c" textLength="101.6" lengthAdjust="spacingAndGlyphs" stroke="#e2701c" stroke-width="0.25">Bremgarten_model2</text>
<text x="289.5" y="681.2" font-size="11.2" text-anchor="start" font-weight="bold" fill="#e2701c" textLength="101" lengthAdjust="spacingAndGlyphs" stroke="#e2701c" stroke-width="0.25">Bremgarten_model3</text>
<text x="289.8" y="1094.8" font-size="11.2" text-anchor="start" font-weight="bold" fill="#e2701c" textLength="100.4" lengthAdjust="spacingAndGlyphs" stroke="#e2701c" stroke-width="0.25">Bremgarten_model7</text>
<line x1="161.9" y1="377.3" x2="255.8" y2="377.3" stroke="#1a1a1a" stroke-width="1.6"/>
<text x="193.2" y="375.1" font-size="12.2" text-anchor="start" font-weight="normal" fill="#1a1a1a" textLength="40.8" lengthAdjust="spacingAndGlyphs">1000 m</text>
<line x1="157.6" y1="785.9" x2="251.3" y2="785.9" stroke="#1a1a1a" stroke-width="1.6"/>
<text x="189" y="783.7" font-size="12.2" text-anchor="start" font-weight="normal" fill="#1a1a1a" textLength="41.2" lengthAdjust="spacingAndGlyphs">1000 m</text>
<text x="673.4" y="376.8" font-size="17.5" text-anchor="start" font-weight="normal" fill="#111" textLength="9.6" lengthAdjust="spacingAndGlyphs">a</text>
<text x="662.7" y="787.2" font-size="17.5" text-anchor="start" font-weight="normal" fill="#111" textLength="9.2" lengthAdjust="spacingAndGlyphs">b</text>
<text x="665.2" y="1199.6" font-size="18" text-anchor="start" font-weight="normal" fill="#111" textLength="9" lengthAdjust="spacingAndGlyphs">c</text>
<path d="M540.6 81.1V268.2M638.6 81.1V268.2" stroke="#222" stroke-width="1"/>
<path d="M546 81.1H633" stroke="#444" stroke-width="1.2"/>
<path d="M540.8 81.1l9.3 -3l-2.6 3l2.6 3z" fill="#111"/>
<path d="M638.4 81.1l-9.3 -3l2.6 3l-2.6 3z" fill="#111"/>
<text x="589.8" y="98.1" font-size="12.9" text-anchor="middle" font-weight="normal" fill="#1a1a1a">Gravity signal</text>
<text x="589.8" y="112.4" font-size="12.9" text-anchor="middle" font-weight="normal" fill="#1a1a1a">well reproduced</text>
<text x="589.8" y="127" font-size="12.9" text-anchor="middle" font-weight="normal" fill="#1a1a1a">by PRISMA</text>
<text x="589.8" y="141.5" font-size="12.9" text-anchor="middle" font-weight="normal" fill="#1a1a1a">model</text>
</svg>
</body></html>
